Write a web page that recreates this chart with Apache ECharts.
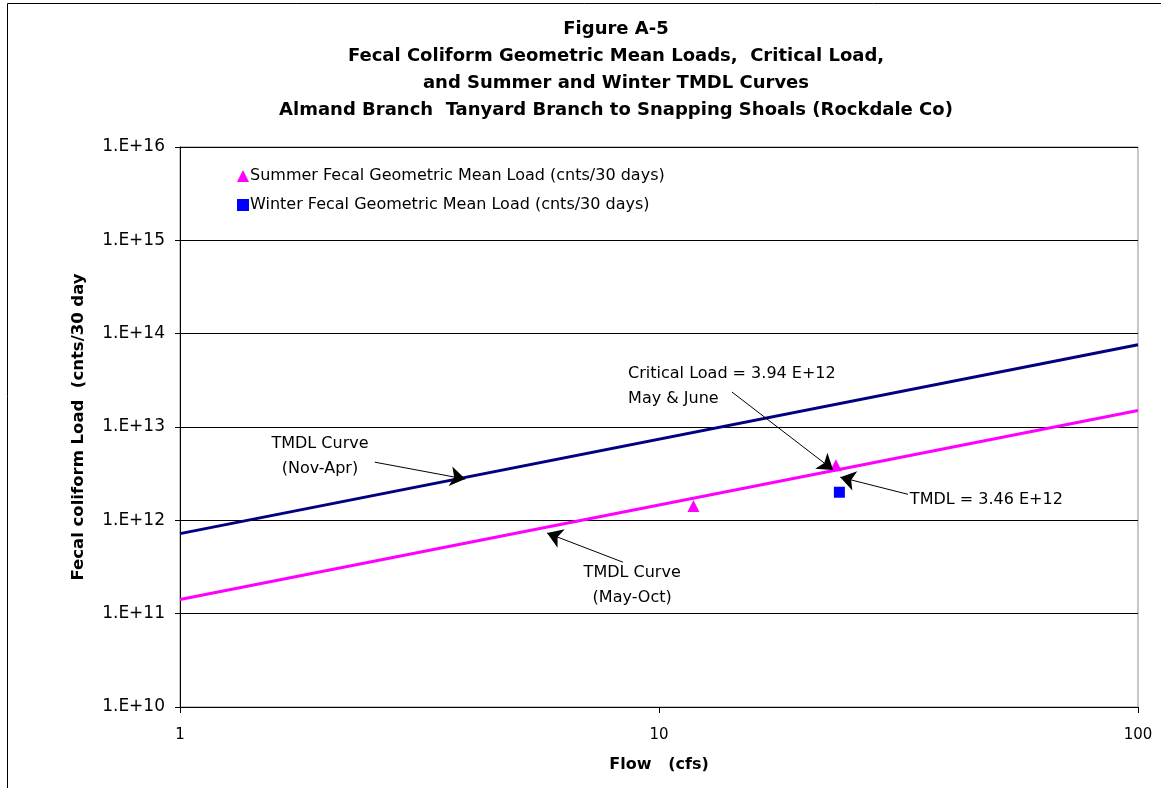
<!DOCTYPE html>
<html>
<head>
<meta charset="utf-8">
<script src="https://cdn.jsdelivr.net/npm/echarts@6/dist/echarts.min.js"></script>
<style>
  html, body { margin: 0; padding: 0; background: #fff; }
  #chart { width: 1161px; height: 788px; }
</style>
</head>
<body>
<div id="chart"></div>
<script>
// measured points (flow cfs, load cnts/30 days)
var summerFlow = [11.8, 23.4];
var summerLoad = [1.42e12, 3.9e12];
var winterFlow = [23.8];
var winterLoad = [2.0e12];

// TMDL curves, end points at flow 1 and 100
var curveFlow = [1, 100];
var winterCurve = [7.2e11, 7.6e13];
var summerCurve = [1.42e11, 1.5e13];

var yTicks = ["1.E+10", "1.E+11", "1.E+12", "1.E+13", "1.E+14", "1.E+15", "1.E+16"];

var font = "'DejaVu Sans', sans-serif";

function pairs(xs, ys) {
  return xs.map(function (x, i) { return [x, ys[i]]; });
}

// annotation arrows: from text to curve, in data units
var arrows = [
  [[2.55, 4.2e12], [3.94, 2.77e12]],
  [[8.41, 3.56e11], [5.84, 7.3e11]],
  [[14.2, 2.37e13], [23.1, 3.47e12]],
  [[33.1, 1.9e12], [23.9, 2.9e12]]
];
var notes = [
  { coord: [1.96, 4.9e12], text: "TMDL Curve\n(Nov-Apr)", align: "center" },
  { coord: [8.79, 2.02e11], text: "TMDL Curve\n(May-Oct)", align: "center" },
  { coord: [8.62, 2.74e13], text: "Critical Load = 3.94 E+12\nMay & June", align: "left" },
  { coord: [33.4, 1.65e12], text: "TMDL = 3.46 E+12", align: "left" }
];

var chart = echarts.init(document.getElementById("chart"));
var option = {
  backgroundColor: "#fff",
  animation: false,
  textStyle: { fontFamily: font },
  title: {
    text: "Figure A-5\nFecal Coliform Geometric Mean Loads,  Critical Load,\nand Summer and Winter TMDL Curves\nAlmand Branch  Tanyard Branch to Snapping Shoals (Rockdale Co)",
    left: 611,
    top: 11,
    textAlign: "center",
    textStyle: { fontFamily: font, fontSize: 18, fontWeight: "bold", color: "#000", lineHeight: 27 }
  },
  graphic: [
    { type: "rect", shape: { x: 7.5, y: 3.5, width: 1160, height: 790 }, style: { fill: "none", stroke: "#000", lineWidth: 1 }, silent: true }
  ],
  legend: {
    orient: "vertical",
    left: 232,
    top: 163,
    itemWidth: 12,
    itemHeight: 12,
    itemGap: 13,
    textStyle: { fontFamily: font, fontSize: 16, color: "#000", padding: [0, 0, 0, -4] },
    data: [
      { name: "Summer Fecal Geometric Mean Load (cnts/30 days)", icon: "triangle", itemStyle: { color: "#ff00ff", opacity: 1 } },
      { name: "Winter Fecal Geometric Mean Load (cnts/30 days)", icon: "rect", itemStyle: { color: "#0000ff", opacity: 1 } }
    ]
  },
  grid: { left: 180, right: 23, top: 147, bottom: 81, show: true, borderColor: "#909090", borderWidth: 1 },
  xAxis: {
    type: "log",
    logBase: 10,
    min: 1,
    max: 100,
    name: "Flow   (cfs)",
    nameLocation: "middle",
    nameGap: 50,
    nameTextStyle: { fontFamily: font, fontSize: 16, fontWeight: "bold", color: "#000" },
    axisLine: { lineStyle: { color: "#000", width: 1 } },
    axisTick: { show: true, length: 6, lineStyle: { color: "#000" } },
    minorTick: { show: false },
    axisLabel: { fontFamily: font, fontSize: 15, color: "#000", margin: 21 },
    splitLine: { show: false }
  },
  yAxis: {
    type: "log",
    logBase: 10,
    min: 1e10,
    max: 1e16,
    interval: 1,
    name: "Fecal coliform Load  (cnts/30 day",
    nameLocation: "middle",
    nameGap: 93,
    nameRotate: 90,
    nameTextStyle: { fontFamily: font, fontSize: 16.5, fontWeight: "bold", color: "#000" },
    axisLine: { show: true, lineStyle: { color: "#000", width: 1 } },
    axisTick: { show: true, length: 5, lineStyle: { color: "#000" } },
    axisLabel: {
      fontFamily: font, fontSize: 17, color: "#000", margin: 15,
      formatter: function (v) { return yTicks[Math.round(Math.log10(v)) - 10]; }
    },
    splitLine: { show: true, lineStyle: { color: "#000", width: 1 } }
  },
  series: [
    {
      name: "Winter TMDL",
      type: "line",
      data: pairs(curveFlow, winterCurve),
      symbol: "none",
      lineStyle: { color: "#000080", width: 3 },
      itemStyle: { color: "#000080" },
      z: 3,
      markLine: {
        silent: true,
        symbol: ["none", "arrow"],
        symbolSize: 15,
        label: { show: false },
        lineStyle: { color: "#000", width: 1, type: "solid", opacity: 1 },
        itemStyle: { color: "#000" },
        data: arrows.map(function (a) { return [{ coord: a[0] }, { coord: a[1] }]; })
      },
      markPoint: {
        silent: true,
        symbol: "rect",
        symbolSize: 1,
        itemStyle: { color: "rgba(0,0,0,0)" },
        data: notes.map(function (n) {
          return {
            coord: n.coord,
            label: {
              show: true, position: "inside", formatter: n.text, align: n.align,
              fontFamily: font, fontSize: 16, color: "#000", lineHeight: 25
            }
          };
        })
      }
    },
    {
      name: "Summer TMDL",
      type: "line",
      data: pairs(curveFlow, summerCurve),
      symbol: "none",
      lineStyle: { color: "#ff00ff", width: 3 },
      itemStyle: { color: "#ff00ff" },
      z: 3
    },
    {
      name: "Summer Fecal Geometric Mean Load (cnts/30 days)",
      type: "scatter",
      data: pairs(summerFlow, summerLoad),
      symbol: "triangle",
      symbolSize: 12,
      itemStyle: { color: "#ff00ff", opacity: 1 },
      z: 4
    },
    {
      name: "Winter Fecal Geometric Mean Load (cnts/30 days)",
      type: "scatter",
      data: pairs(winterFlow, winterLoad),
      symbol: "rect",
      symbolSize: 11,
      itemStyle: { color: "#0000ff", opacity: 1 },
      z: 4
    }
  ]
};
chart.setOption(option);
</script>
</body>
</html>
